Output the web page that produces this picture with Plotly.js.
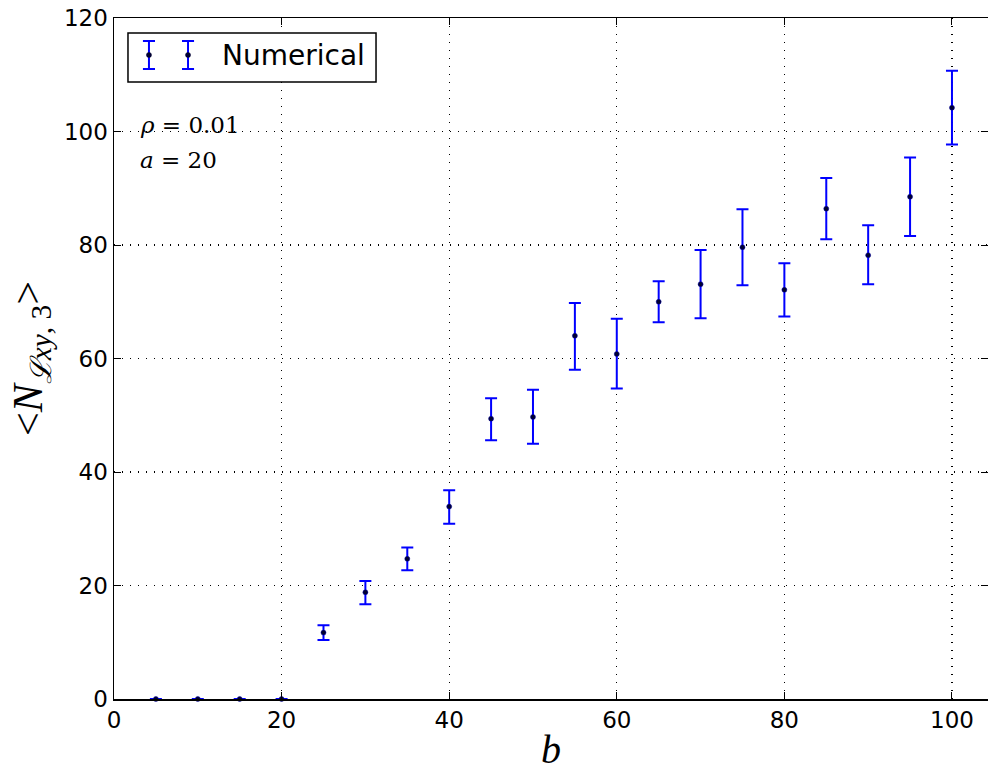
<!DOCTYPE html>
<html>
<head>
<meta charset="utf-8">
<script src="https://cdn.plot.ly/plotly-3.0.1.min.js"></script>
<style>html,body{margin:0;padding:0;background:#fff;}#chart{width:988px;height:772px;}</style>
</head>
<body>
<div id="chart"></div>
<script>
const bValues = [5, 10, 15, 20, 25, 30, 35, 40, 45, 50, 55, 60, 65, 70, 75, 80, 85, 90, 95, 100];
const meanN   = [0, 0, 0, 0, 11.7, 18.8, 24.7, 33.9, 49.4, 49.7, 64.0, 60.8, 70.0, 73.1, 79.6, 72.1, 86.4, 78.2, 88.5, 104.2];
const errUp   = [0, 0, 0, 0, 1.3, 2.0, 2.0, 2.9, 3.6, 4.8, 5.8, 6.2, 3.6, 6.0, 6.7, 4.7, 5.4, 5.3, 6.9, 6.5];
const errDown = [0, 0, 0, 0, 1.3, 2.1, 2.0, 3.0, 3.8, 4.7, 6.0, 6.1, 3.6, 6.0, 6.7, 4.7, 5.4, 5.1, 6.9, 6.5];
const seriesName = "Numerical";
const xTicks = [0, 20, 40, 60, 80, 100];
const yTicks = [0, 20, 40, 60, 80, 100, 120];

const blue = '#0000ff';
const dotColor = '#000033';

const trace = {
  x: bValues, y: meanN, type: 'scatter', mode: 'markers', name: seriesName,
  showlegend: false,
  marker: {color: dotColor, size: 5, line: {color: '#0000aa', width: 0.5}},
  error_y: {type: 'data', symmetric: false, array: errUp, arrayminus: errDown,
            color: blue, thickness: 2, width: 6},
  cliponaxis: false
};

// legend drawn in paper coordinates (two error-bar glyphs, like matplotlib numpoints=2)
const legendGlyphX = [0.0400, 0.0847];
const gTop = 0.9662, gBot = 0.9251, gMid = 0.9457, capHalf = 0.0069;
const shapes = [
  {type: 'rect', xref: 'paper', yref: 'paper', x0: 0.0160, x1: 0.2998, y0: 0.906, y1: 0.978,
   line: {color: '#000', width: 1.5}, fillcolor: '#fff', layer: 'above'}
];
legendGlyphX.forEach(gx => {
  shapes.push({type: 'line', xref: 'paper', yref: 'paper', x0: gx, x1: gx, y0: gBot, y1: gTop, line: {color: blue, width: 2}, layer: 'above'});
  shapes.push({type: 'line', xref: 'paper', yref: 'paper', x0: gx - capHalf, x1: gx + capHalf, y0: gTop, y1: gTop, line: {color: blue, width: 2}, layer: 'above'});
  shapes.push({type: 'line', xref: 'paper', yref: 'paper', x0: gx - capHalf, x1: gx + capHalf, y0: gBot, y1: gBot, line: {color: blue, width: 2}, layer: 'above'});
  shapes.push({type: 'circle', xref: 'paper', yref: 'paper', x0: gx - 0.0029, x1: gx + 0.0029, y0: gMid - 0.0037, y1: gMid + 0.0037,
               fillcolor: dotColor, line: {color: dotColor, width: 0.5}, layer: 'above'});
});

const tickFont = {family: 'DejaVu Sans', size: 23, color: '#000'};
const gridDash = '1px,7px';
const layout = {
  width: 988, height: 772,
  margin: {l: 114, r: 0, t: 18, b: 73},
  paper_bgcolor: '#fff', plot_bgcolor: '#fff',
  showlegend: false,
  xaxis: {range: [0, 104.3], tickvals: xTicks, ticktext: xTicks.map(String),
          ticks: 'inside', ticklen: 7, tickcolor: '#000', tickwidth: 1,
          showline: true, linecolor: '#000', linewidth: 1.5, mirror: 'allticks',
          showgrid: true, gridcolor: '#000', griddash: gridDash, gridwidth: 1.2,
          zeroline: false, tickfont: tickFont,
          title: {text: '<i>b</i>', font: {family: 'Liberation Serif', size: 40, color: '#000'}, standoff: 4}},
  yaxis: {range: [0, 120], tickvals: yTicks, ticktext: yTicks.map(String),
          ticks: 'inside', ticklen: 7, tickcolor: '#000', tickwidth: 1,
          showline: true, linecolor: '#000', linewidth: 1.5, mirror: 'allticks',
          showgrid: true, gridcolor: '#000', griddash: gridDash, gridwidth: 1.2,
          zeroline: false, tickfont: tickFont,
          title: {text: '&lt;<i>N</i><sub><i>ℒxy</i>, 3</sub>&gt;', font: {family: 'Liberation Serif', size: 42, color: '#000'}, standoff: 8}},
  shapes: shapes,
  annotations: [
    {xref: 'paper', yref: 'paper', x: 0.1213, y: 0.9442, xanchor: 'left', yanchor: 'middle',
     text: seriesName, showarrow: false, font: {family: 'DejaVu Sans', size: 28, color: '#000'}},
    {xref: 'paper', yref: 'paper', x: 0.028, y: 0.843, xanchor: 'left', yanchor: 'middle',
     text: '<i>ρ</i> = 0.01', showarrow: false, font: {family: 'DejaVu Serif', size: 23, color: '#000'}},
    {xref: 'paper', yref: 'paper', x: 0.028, y: 0.791, xanchor: 'left', yanchor: 'middle',
     text: '<i>a</i> = 20', showarrow: false, font: {family: 'DejaVu Serif', size: 23, color: '#000'}}
  ]
};

Plotly.newPlot('chart', [trace], layout, {displayModeBar: false, staticPlot: true});
</script>
</body>
</html>
